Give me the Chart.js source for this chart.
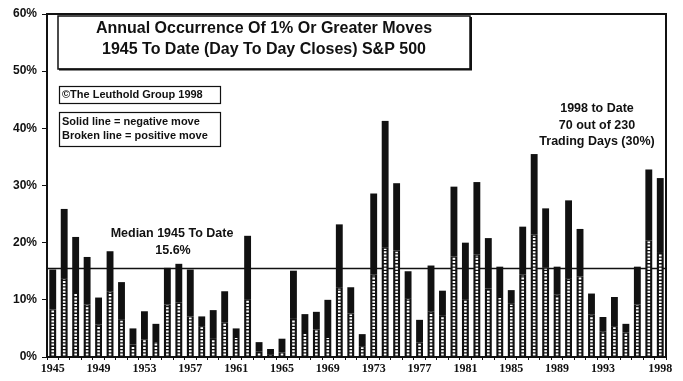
<!DOCTYPE html>
<html>
<head>
<meta charset="utf-8">
<script src="https://cdn.jsdelivr.net/npm/chart.js@4/dist/chart.umd.min.js"></script>
<style>
html,body{margin:0;padding:0;background:#fff;}
#wrap{width:683px;height:381px;position:relative;}
</style>
</head>
<body>
<div id="wrap"><canvas id="c" width="683" height="381"></canvas></div>
<script>
// ---- data ----
const YEARS = [1945,1946,1947,1948,1949,1950,1951,1952,1953,1954,1955,1956,1957,1958,1959,1960,1961,1962,1963,1964,1965,1966,1967,1968,1969,1970,1971,1972,1973,1974,1975,1976,1977,1978,1979,1980,1981,1982,1983,1984,1985,1986,1987,1988,1989,1990,1991,1992,1993,1994,1995,1996,1997,1998];
// positive-move share (broken line part), % of trading days
const POSITIVE = [8.3,13.8,11.2,9.2,5.7,11.5,6.5,2.2,3.1,2.8,9.2,9.5,7.1,5.4,3.3,6.0,3.5,10.0,1.0,0.5,0.8,6.8,4.2,4.8,3.5,12.1,7.6,1.9,14.4,19.1,18.6,10.3,2.5,8.0,7.2,17.6,10.0,17.9,12.0,10.5,9.3,14.4,21.4,15.6,10.9,13.8,14.1,7.4,4.5,5.4,4.3,9.2,20.4,18.2];
// negative-move share (solid part), % of trading days
const NEGATIVE = [7.0,12.1,9.8,8.3,4.7,7.0,6.6,2.8,4.9,3.0,6.4,6.8,8.2,1.7,4.9,5.5,1.5,11.2,1.6,0.9,2.4,8.3,3.3,3.1,6.5,11.1,4.6,2.1,14.2,22.2,11.8,4.7,4.0,8.0,4.4,12.2,10.0,12.7,8.8,5.3,2.4,8.4,14.1,10.4,4.9,13.6,8.3,3.7,2.5,5.1,1.5,6.6,12.4,13.1];
const TICK_YEARS = [1945,1949,1953,1957,1961,1965,1969,1973,1977,1981,1985,1989,1993,1998];
const Y_TICKS = [0,10,20,30,40,50,60];
const MEDIAN = 15.6;

const TITLE_LINES = ['Annual Occurrence Of 1% Or Greater Moves','1945 To Date (Day To Day Closes) S&P 500'];
const COPYRIGHT = '\u00A9The Leuthold Group 1998';
const KEY_LINES = ['Solid line = negative move','Broken line = positive move'];
const MEDIAN_LINES = ['Median 1945 To Date','15.6%'];
const NOTE_LINES = ['1998 to Date','70 out of 230','Trading Days (30%)'];

const SANS = '"Liberation Sans", Arial, sans-serif';
const SERIF = '"Liberation Serif", "Times New Roman", serif';

const decor = {
  id: 'decor',
  beforeDatasetsDraw(chart) {
    const {ctx, chartArea: a, scales: {y}} = chart;
    ctx.save();
    const my = Math.round(y.getPixelForValue(MEDIAN)) + 0.5;
    ctx.strokeStyle = '#111';
    ctx.lineWidth = 1.5;
    ctx.beginPath(); ctx.moveTo(a.left, my); ctx.lineTo(a.right, my); ctx.stroke();
    ctx.restore();
  },
  afterDatasetsDraw(chart) {
    const {ctx, chartArea: a} = chart;
    ctx.save();
    // broken white line inside the positive part of each bar
    const meta = chart.getDatasetMeta(0);
    ctx.strokeStyle = '#fff';
    ctx.lineWidth = 2.6;
    ctx.setLineDash([2, 1.3]);
    meta.data.forEach(el => {
      const top = el.y, base = el.base;
      if (base - top < 2) return;
      ctx.beginPath();
      ctx.moveTo(el.x, base - 1);
      ctx.lineTo(el.x, top + 1);
      ctx.stroke();
    });
    ctx.setLineDash([]);

    // plot frame (top + right)
    ctx.strokeStyle = '#111';
    ctx.lineWidth = 2;
    ctx.beginPath();
    ctx.moveTo(a.left, a.top); ctx.lineTo(a.right, a.top); ctx.lineTo(a.right, a.bottom);
    ctx.stroke();

    // title box
    ctx.lineWidth = 1.5;
    ctx.fillStyle = '#fff';
    ctx.fillRect(58, 16, 412, 53);
    ctx.strokeRect(58, 16, 412, 53);
    ctx.lineWidth = 2;
    ctx.beginPath(); ctx.moveTo(59, 69.5); ctx.lineTo(471, 69.5); ctx.lineTo(471, 17); ctx.stroke();
    ctx.fillStyle = '#111';
    ctx.textAlign = 'center';
    ctx.textBaseline = 'middle';
    ctx.font = 'bold 16px ' + SANS;
    ctx.fillText(TITLE_LINES[0], 264, 29);
    ctx.fillText(TITLE_LINES[1], 264, 50);

    // copyright box
    ctx.lineWidth = 1.2;
    ctx.strokeRect(59.5, 86.5, 161, 17);
    ctx.textAlign = 'left';
    ctx.font = 'bold 11px ' + SANS;
    ctx.fillText(COPYRIGHT, 62, 95);

    // key box
    ctx.strokeRect(59.5, 112.5, 161, 34);
    ctx.fillText(KEY_LINES[0], 62, 122);
    ctx.fillText(KEY_LINES[1], 62, 136);

    // median annotation
    ctx.textAlign = 'center';
    ctx.font = 'bold 12.5px ' + SANS;
    ctx.fillText(MEDIAN_LINES[0], 172, 234);
    ctx.fillText(MEDIAN_LINES[1], 173, 251);

    // 1998 note
    ctx.fillText(NOTE_LINES[0], 597, 109);
    ctx.fillText(NOTE_LINES[1], 597, 126);
    ctx.fillText(NOTE_LINES[2], 597, 142);
    ctx.restore();
  }
};

new Chart(document.getElementById('c'), {
  type: 'bar',
  data: {
    labels: YEARS.map(String),
    datasets: [
      { label: 'Positive', data: POSITIVE, backgroundColor: '#111', borderWidth: 0,
        barPercentage: 0.6, categoryPercentage: 1.0 },
      { label: 'Negative', data: NEGATIVE, backgroundColor: '#111', borderWidth: 0,
        barPercentage: 0.6, categoryPercentage: 1.0 }
    ]
  },
  options: {
    responsive: false,
    animation: false,
    devicePixelRatio: 1,
    layout: { padding: { top: 14, right: 17, left: 0, bottom: 0 } },
    plugins: { legend: { display: false }, tooltip: { enabled: false }, title: { display: false } },
    scales: {
      x: {
        stacked: true,
        afterFit(s) { s.height = 24; },
        grid: { drawOnChartArea: false, drawTicks: true, tickLength: 3, color: '#111', offset: true },
        border: { display: true, color: '#111', width: 2 },
        ticks: {
          autoSkip: false, maxRotation: 0, minRotation: 0, padding: 2,
          color: '#111',
          font: { family: SERIF, size: 12, weight: 'bold' },
          callback(v, i) { return TICK_YEARS.includes(YEARS[i]) ? String(YEARS[i]) : ''; }
        }
      },
      y: {
        stacked: true,
        min: 0, max: 60,
        afterFit(s) { s.width = 47; },
        afterBuildTicks(s) { s.ticks = Y_TICKS.map(v => ({ value: v })); },
        grid: { drawOnChartArea: false, drawTicks: true, tickLength: 5, color: '#111' },
        border: { display: true, color: '#111', width: 2 },
        ticks: {
          padding: 5,
          color: '#111',
          font: { family: SANS, size: 12, weight: 'bold' },
          callback(v) { return v + '%'; }
        }
      }
    }
  },
  plugins: [decor]
});
</script>
</body>
</html>
